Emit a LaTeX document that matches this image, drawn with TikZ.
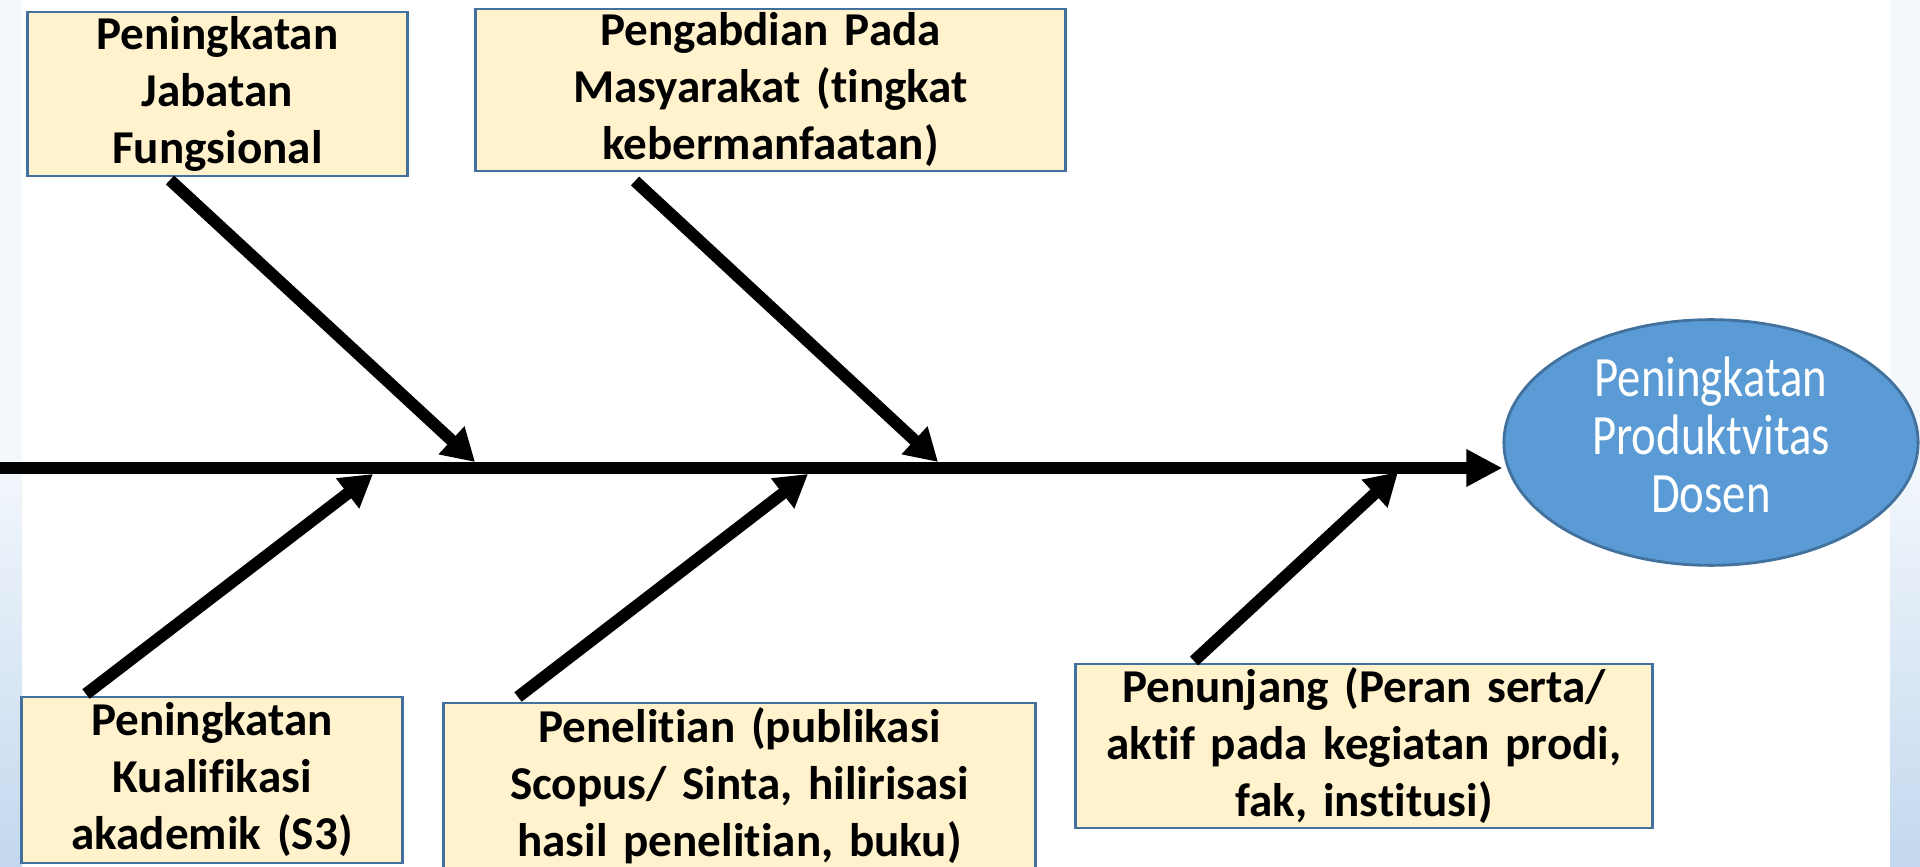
\documentclass[tikz,border=0pt]{standalone}
\usepackage{fontspec}
\usepackage{graphicx}
\setmainfont{Carlito}[Ligatures={CommonOff,ContextualOff}]
\usetikzlibrary{arrows.meta,shapes.geometric}
\definecolor{boxfill}{HTML}{FFF2CC}
\definecolor{boxline}{HTML}{41719C}
\definecolor{ellfill}{HTML}{5B9BD5}
\definecolor{bgtop}{HTML}{F4F8FC}
\definecolor{bgbot}{HTML}{C3D8EE}
\tikzset{
  cause/.style={draw=boxline, line width=0.8pt, fill=boxfill, inner sep=0pt,
    align=center, font=\fontsize{13.4}{16.2}\selectfont\bfseries},
  bone/.style={line width=0.12cm, -{Triangle[length=0.32cm,width=0.36cm]}},
  spine/.style={line width=0.12cm, -{Triangle[length=0.36cm,width=0.35cm]}},
  effect/.style={ellipse, draw=boxline, line width=0.8pt, fill=ellfill, inner sep=0pt,
    minimum width=4.14cm, minimum height=2.19cm, text=white, align=center,
    font=\fontsize{13.3}{13.5}\selectfont}
}
\begin{document}
\begin{tikzpicture}[x=0.01cm,y=-0.01cm]
\useasboundingbox (0,0) rectangle (1920,867);
\clip (0,0) rectangle (1920,867);
% slide background strips
\fill[bgtop] (0,0) rectangle (22,450);
\shade[top color=bgtop, bottom color=bgbot] (0,450) rectangle (22,867);
\fill[bgtop] (1890,0) rectangle (1920,450);
\shade[top color=bgtop, bottom color=bgbot] (1890,450) rectangle (1920,867);

% cause boxes
\node[cause, text width=3.79cm, minimum height=1.64cm] (b1) at (217.5,94) {Peningkatan\\Jabatan\\Fungsional};
\node[cause, text width=5.89cm, minimum height=1.62cm] (b2) at (770.5,90) {Pengabdian Pada\\Masyarakat (tingkat\\kebermanfaatan)};
\node[cause, text width=3.80cm, minimum height=1.66cm] (b3) at (212,780) {Peningkatan\\Kualifikasi\\akademik (S3)};
\node[cause, text width=5.91cm, minimum height=1.66cm] (b4) at (739.5,786) {Penelitian (publikasi\\Scopus/ Sinta, hilirisasi\\hasil penelitian, buku)};
\node[cause, text width=5.76cm, minimum height=1.64cm] (b5) at (1364,746) {Penunjang (Peran serta/\\aktif pada kegiatan prodi,\\fak, institusi)};

% effect
\node[effect] (e) at (1711,442.5) {\scalebox{1}[1.22]{\begin{tabular}{@{}c@{}}Peningkatan\\Produktvitas\\Dosen\end{tabular}}};

% spine
\coordinate (sp0) at (0,468);
\draw[spine] (sp0) -- (sp0 -| e.west);

% bones
\coordinate (s1) at (170,180);  \coordinate (t1) at (475,462);
\coordinate (s2) at (635,181);  \coordinate (t2) at (938,462);
\coordinate (s3) at (86,694);   \coordinate (t3) at (373,474);
\coordinate (s4) at (518,697);  \coordinate (t4) at (808,474);
\coordinate (s5) at (1194,661); \coordinate (t5) at (1398,472);
\draw[bone] (s1) -- (t1);
\draw[bone] (s2) -- (t2);
\draw[bone] (s3) -- (t3);
\draw[bone] (s4) -- (t4);
\draw[bone] (s5) -- (t5);
\end{tikzpicture}
\end{document}
